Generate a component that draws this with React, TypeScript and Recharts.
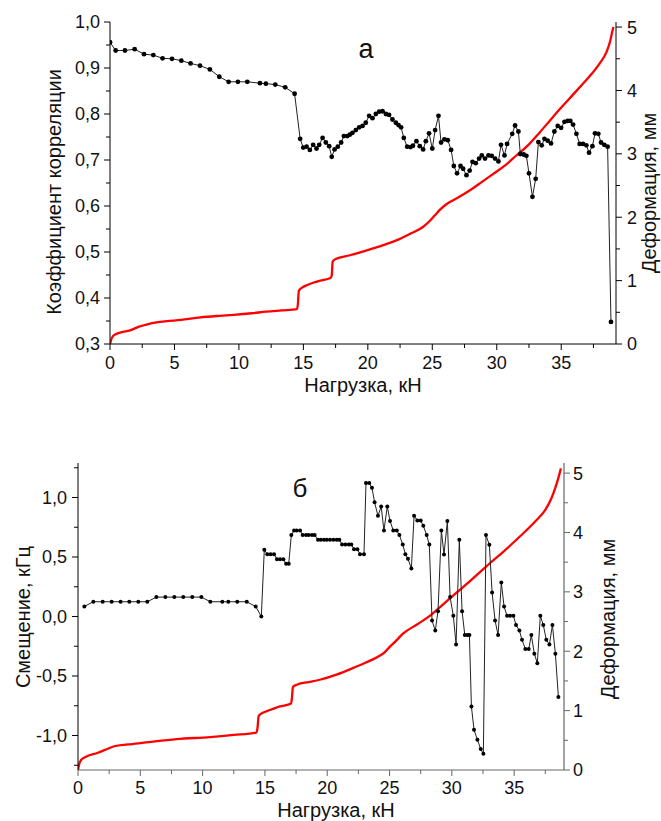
import React from 'react';
import { ComposedChart, Line, XAxis, YAxis } from 'recharts';

// ---------- Chart "а" (top) ----------
const topLoad = [
  0, 0.44, 1.16, 1.91, 2.64, 3.36, 4.08, 4.81, 5.53, 6.25, 6.98, 7.75, 8.48, 9.2, 9.92, 10.65,
  11.63, 12.09, 12.82, 13.59, 14.32, 14.75, 14.99, 15.25, 15.5, 15.76, 16.02, 16.23, 16.49, 16.74,
  17.0, 17.2, 17.42, 17.67, 17.93, 18.14, 18.4, 18.6, 18.81, 19.07, 19.33, 19.59, 19.84, 20.1,
  20.36, 20.62, 20.88, 21.14, 21.4, 21.65, 21.91, 22.17, 22.38, 22.58, 22.79, 23.05, 23.31, 23.5,
  23.77, 24.03, 24.29, 24.5, 24.75, 25.0, 25.22, 25.48, 25.68, 25.94, 26.2, 26.46, 26.67, 26.92,
  27.19, 27.39, 27.65, 27.9, 28.12, 28.37, 28.63, 28.84, 29.09, 29.36, 29.61, 29.87, 30.13, 30.33,
  30.6, 30.8, 31.2, 31.42, 31.68, 31.83, 32.09, 32.3, 32.5, 32.77, 33.02, 33.23, 33.49, 33.7,
  33.95, 34.21, 34.47, 34.73, 34.99, 35.25, 35.5, 35.71, 35.92, 36.18, 36.43, 36.69, 36.95, 37.16,
  37.42, 37.62, 37.88, 38.09, 38.34, 38.6, 38.86,
];
const topCorr = [
  0.956, 0.938, 0.938, 0.941, 0.93, 0.928, 0.921, 0.92, 0.916, 0.91, 0.905, 0.897, 0.881, 0.87, 0.87, 0.87,
  0.867, 0.866, 0.864, 0.858, 0.844, 0.746, 0.727, 0.729, 0.722, 0.733, 0.725, 0.733, 0.748, 0.738,
  0.73, 0.707, 0.723, 0.729, 0.738, 0.752, 0.752, 0.755, 0.759, 0.765, 0.771, 0.774, 0.781, 0.796,
  0.791, 0.8, 0.805, 0.806, 0.8, 0.798, 0.788, 0.781, 0.776, 0.771, 0.748, 0.729, 0.728, 0.731,
  0.741, 0.73, 0.723, 0.741, 0.758, 0.725, 0.765, 0.796, 0.738, 0.745, 0.743, 0.722, 0.687, 0.671,
  0.687, 0.681, 0.667, 0.677, 0.696, 0.693, 0.703, 0.71, 0.703, 0.71, 0.709, 0.703, 0.697, 0.733,
  0.71, 0.735, 0.757, 0.775, 0.762, 0.713, 0.712, 0.709, 0.671, 0.62, 0.659, 0.739, 0.732, 0.746,
  0.742, 0.736, 0.762, 0.774, 0.77, 0.783, 0.785, 0.785, 0.777, 0.757, 0.735, 0.735, 0.732, 0.716,
  0.73, 0.758, 0.757, 0.738, 0.733, 0.729, 0.348,
];
const topDefLoad = [
  0, 0.15, 0.4, 1.0, 1.5, 2.2, 2.9, 3.6, 4.4, 5.5, 7.0, 8.5, 9.6, 11.0, 12.1, 13.3, 14.5, 14.57,
  14.65, 14.9, 15.3, 15.8, 16.3, 17.1, 17.2, 17.27, 17.5, 18.6, 19.8, 21.2, 22.4, 23.4, 24.3, 24.8,
  25.2, 25.6, 26.2, 27.0, 27.8, 28.8, 29.7, 30.6, 31.5, 32.5, 33.3, 34.1, 35.0, 35.9, 36.7, 37.4,
  38.0, 38.5, 38.8, 38.95, 39.05,
];
const topDef = [
  0, 0.1, 0.15, 0.19, 0.21, 0.27, 0.31, 0.34, 0.36, 0.38, 0.42, 0.445, 0.46, 0.485, 0.51, 0.53, 0.55, 0.62,
  0.84, 0.89, 0.93, 0.97, 1.0, 1.04, 1.08, 1.3, 1.34, 1.4, 1.47, 1.56, 1.65, 1.75, 1.85, 1.94,
  2.03, 2.12, 2.22, 2.31, 2.41, 2.55, 2.68, 2.81, 2.97, 3.15, 3.33, 3.52, 3.73, 3.93, 4.11, 4.27,
  4.43, 4.6, 4.78, 4.92, 5.0,
];
const topXTicks = [0, 2.5, 5, 7.5, 10, 12.5, 15, 17.5, 20, 22.5, 25, 27.5, 30, 32.5, 35, 37.5];
const topXMajor = [0, 5, 10, 15, 20, 25, 30, 35];
const topLeftTicks = [0.3, 0.35, 0.4, 0.45, 0.5, 0.55, 0.6, 0.65, 0.7, 0.75, 0.8, 0.85, 0.9, 0.95, 1.0];
const topLeftMajor = [0.3, 0.4, 0.5, 0.6, 0.7, 0.8, 0.9, 1.0];
const defTicks = [0, 0.5, 1, 1.5, 2, 2.5, 3, 3.5, 4, 4.5, 5];
const defMajor = [0, 1, 2, 3, 4, 5];

// ---------- Chart "б" (bottom) ----------
const botLoad = [
  0.51, 1.23, 1.98, 2.7, 3.42, 4.12, 4.84, 5.56, 6.29, 7.01, 7.73, 8.45, 9.17, 9.9, 10.62, 11.58,
  12.06, 12.78, 13.54, 14.26, 14.71, 14.95, 15.19, 15.46, 15.73, 15.97, 16.22, 16.48, 16.7, 16.91,
  17.12, 17.34, 17.55, 17.82, 18.03, 18.3, 18.51, 18.78, 18.99, 19.26, 19.48, 19.74, 19.96, 20.22,
  20.49, 20.76, 20.97, 21.19, 21.45, 21.73, 21.93, 22.15, 22.42, 22.63, 22.95, 23.11, 23.37, 23.59,
  23.8, 24.07, 24.33, 24.55, 24.82, 25.04, 25.3, 25.58, 25.79, 26.06, 26.27, 26.48, 26.75, 26.97,
  27.23, 27.5, 27.71, 27.98, 28.19, 28.41, 28.67, 28.89, 29.16, 29.37, 29.64, 29.86, 30.12, 30.34,
  30.6, 30.82, 31.04, 31.25, 31.41, 31.57, 31.78, 32.05, 32.32, 32.53, 32.74, 33.01, 33.23, 33.47,
  33.71, 33.97, 34.19, 34.43, 34.67, 34.94, 35.15, 35.42, 35.63, 35.9, 36.17, 36.38, 36.62, 36.86,
  37.1, 37.34, 37.58, 37.83, 38.07, 38.31, 38.55,
];
const botShift = [
  0.084, 0.124, 0.124, 0.124, 0.124, 0.124, 0.124, 0.124, 0.163, 0.163, 0.163, 0.163, 0.163, 0.163, 0.124, 0.124,
  0.124, 0.124, 0.124, 0.084, 0.0, 0.56, 0.524, 0.524, 0.524, 0.482, 0.482, 0.482, 0.443, 0.443,
  0.684, 0.723, 0.723, 0.723, 0.684, 0.684, 0.684, 0.684, 0.684, 0.645, 0.645, 0.645, 0.645, 0.645,
  0.645, 0.645, 0.645, 0.605, 0.605, 0.605, 0.605, 0.566, 0.566, 0.524, 0.524, 1.121, 1.121, 1.082,
  0.961, 0.846, 0.924, 0.723, 0.924, 0.802, 0.723, 0.723, 0.684, 0.605, 0.524, 0.485, 0.403, 0.846,
  0.807, 0.807, 0.762, 0.684, 0.605, -0.034, -0.118, 0.045, 0.723, 0.521, 0.802, 0.163, 0.006, -0.235,
  0.645, 0.045, -0.156, -0.156, -0.156, -0.756, -0.952, -1.036, -1.114, -1.154, 0.684, 0.602, 0.202, -0.034,
  -0.156, 0.286, 0.084, 0.006, 0.006, 0.006, -0.072, -0.118, -0.196, -0.274, -0.274, -0.156, -0.313, -0.392,
  0.006, -0.072, -0.196, -0.235, -0.072, -0.313, -0.677,
];
const botDefLoad = [
  0, 0.1, 0.3, 0.6, 1.6, 2.3, 2.9, 4.0, 5.3, 7.9, 10.6, 12.5, 14.3, 14.4, 14.5, 14.8, 15.4, 16.2,
  17.1, 17.16, 17.25, 17.6, 18.5, 19.4, 20.8, 22.1, 23.1, 24.0, 24.6, 25.0, 25.4, 26.1, 27.2, 28.2,
  29.3, 30.4, 31.5, 32.3, 33.1, 34.1, 35.5, 36.8, 37.5, 38.0, 38.3, 38.55, 38.75,
];
const botDef = [
  0, 0.1, 0.18, 0.22, 0.29, 0.35, 0.4, 0.43, 0.46, 0.52, 0.555, 0.59, 0.63, 0.7, 0.91, 0.96, 1.01, 1.07,
  1.12, 1.2, 1.4, 1.44, 1.48, 1.52, 1.61, 1.72, 1.81, 1.9, 1.98, 2.07, 2.15, 2.3, 2.45, 2.59,
  2.79, 2.99, 3.19, 3.34, 3.49, 3.67, 3.94, 4.21, 4.38, 4.58, 4.75, 4.92, 5.08,
];
const botXTicks = topXTicks;
const botXMajor = topXMajor;
const botLeftTicks = [-1.25, -1.0, -0.75, -0.5, -0.25, 0, 0.25, 0.5, 0.75, 1.0, 1.25];
const botLeftMajor = [-1.0, -0.5, 0, 0.5, 1.0];

const zip = (xs: number[], ys: number[]) => xs.map((x, i) => ({ x, y: ys[i] }));

const FONT = '"Liberation Sans", Arial, sans-serif';

const isMajor = (majors: number[], v: number) => majors.some((m) => Math.abs(m - v) < 1e-6);
const comma = (v: number) => v.toFixed(1).replace('.', ',');
const intFmt = (v: number) => String(Math.round(v));

type Side = 'left' | 'right' | 'bottom';

const makeTick = (
  side: Side,
  majors: number[],
  fmt: (v: number) => string,
  color: string,
  fontSize: number,
  labelOffset: number
) => (props: any) => {
  const { x, y, payload } = props;
  const v = payload.value as number;
  const major = isMajor(majors, v);
  const len = major ? 6 : 4;
  if (side === 'left') {
    return (
      <g>
        <line x1={x - len} y1={y} x2={x} y2={y} stroke={color} strokeWidth={1} />
        {major && (
          <text x={x - labelOffset} y={y} dy="0.36em" textAnchor="end" fontSize={fontSize} fontFamily={FONT} fill="#111">
            {fmt(v)}
          </text>
        )}
      </g>
    );
  }
  if (side === 'right') {
    return (
      <g>
        <line x1={x} y1={y} x2={x + len} y2={y} stroke={color} strokeWidth={1} />
        {major && (
          <text x={x + labelOffset} y={y} dy="0.36em" textAnchor="start" fontSize={fontSize} fontFamily={FONT} fill="#111">
            {fmt(v)}
          </text>
        )}
      </g>
    );
  }
  return (
    <g>
      <line x1={x} y1={y} x2={x} y2={y + len} stroke={color} strokeWidth={1} />
      {major && (
        <text x={x} y={y + labelOffset} textAnchor="middle" fontSize={fontSize} fontFamily={FONT} fill="#111">
          {fmt(v)}
        </text>
      )}
    </g>
  );
};

const topBlack = zip(topLoad, topCorr);
const topRed = zip(topDefLoad, topDef);
const botBlack = zip(botLoad, botShift);
const botRed = zip(botDefLoad, botDef);

const TopChart = () => (
  <ComposedChart width={661} height={400} margin={{ top: 22, right: 0, bottom: 26, left: 0 }}>
    <XAxis
      type="number"
      dataKey="x"
      domain={[0, 39.25]}
      allowDataOverflow
      ticks={topXTicks}
      interval={0}
      height={30}
      tickSize={0}
      tickMargin={0}
      tickLine={false}
      axisLine={{ stroke: '#000', strokeWidth: 1 }}
      tick={makeTick('bottom', topXMajor, intFmt, '#000', 18, 25)}
    />
    <YAxis
      yAxisId="l"
      type="number"
      domain={[0.3, 1.0]}
      allowDataOverflow
      ticks={topLeftTicks}
      interval={0}
      width={110}
      tickSize={0}
      tickMargin={0}
      tickLine={false}
      axisLine={{ stroke: '#000', strokeWidth: 1 }}
      tick={makeTick('left', topLeftMajor, comma, '#000', 18, 10)}
    />
    <YAxis
      yAxisId="r"
      orientation="right"
      type="number"
      domain={[0, 5.08]}
      allowDataOverflow
      ticks={defTicks}
      interval={0}
      width={45}
      tickSize={0}
      tickMargin={0}
      tickLine={false}
      axisLine={{ stroke: '#000', strokeWidth: 1 }}
      tick={makeTick('right', defMajor, intFmt, '#000', 18, 11)}
    />
    <Line
      yAxisId="r"
      data={topRed}
      dataKey="y"
      type="monotone"
      stroke="#ff0000"
      strokeWidth={2.3}
      dot={false}
      isAnimationActive={false}
    />
    <Line
      yAxisId="l"
      data={topBlack}
      dataKey="y"
      type="linear"
      stroke="#222"
      strokeWidth={1}
      dot={{ r: 2.4, fill: '#000', stroke: 'none' }}
      isAnimationActive={false}
    />
  </ComposedChart>
);

const BottomChart = () => (
  <ComposedChart width={661} height={401} margin={{ top: 43, right: 0, bottom: 21, left: 0 }}>
    <XAxis
      type="number"
      dataKey="x"
      domain={[0, 39]}
      allowDataOverflow
      ticks={botXTicks}
      interval={0}
      height={30}
      tickSize={0}
      tickMargin={0}
      tickLine={false}
      axisLine={{ stroke: '#666', strokeWidth: 1.2 }}
      tick={makeTick('bottom', botXMajor, intFmt, '#666', 18, 24)}
    />
    <YAxis
      yAxisId="l"
      type="number"
      domain={[-1.29, 1.29]}
      allowDataOverflow
      ticks={botLeftTicks}
      interval={0}
      width={78}
      tickSize={0}
      tickMargin={0}
      tickLine={false}
      axisLine={{ stroke: '#000', strokeWidth: 1 }}
      tick={makeTick('left', botLeftMajor, comma, '#000', 18, 11)}
    />
    <YAxis
      yAxisId="r"
      orientation="right"
      type="number"
      domain={[0, 5.17]}
      allowDataOverflow
      ticks={defTicks}
      interval={0}
      width={97}
      tickSize={0}
      tickMargin={0}
      tickLine={false}
      axisLine={{ stroke: '#666', strokeWidth: 1.2 }}
      tick={makeTick('right', defMajor, intFmt, '#666', 18, 9)}
    />
    <Line
      yAxisId="r"
      data={botRed}
      dataKey="y"
      type="monotone"
      stroke="#ff0000"
      strokeWidth={2.3}
      dot={false}
      isAnimationActive={false}
    />
    <Line
      yAxisId="l"
      data={botBlack}
      dataKey="y"
      type="linear"
      stroke="#222"
      strokeWidth={1}
      dot={{ r: 2, fill: '#000', stroke: 'none' }}
      isAnimationActive={false}
    />
  </ComposedChart>
);

export default function App() {
  return (
    <div style={{ position: 'absolute', left: 0, top: 0, width: 661, height: 821, background: '#fff', overflow: 'hidden' }}>
      <div style={{ position: 'absolute', left: 0, top: 0 }}>
        <TopChart />
      </div>
      <div style={{ position: 'absolute', left: 0, top: 420 }}>
        <BottomChart />
      </div>
      <svg
        width={661}
        height={821}
        style={{ position: 'absolute', left: 0, top: 0, pointerEvents: 'none' }}
        fontFamily={FONT}
        fill="#111"
      >
        <text x={366} y={58} textAnchor="middle" fontSize={27}>а</text>
        <text x={0} y={0} transform="translate(54,192) rotate(-90)" textAnchor="middle" dy="0.35em" fontSize={20}>
          Коэффициент корреляции
        </text>
        <text x={0} y={0} transform="translate(649,193) rotate(-90)" textAnchor="middle" dy="0.35em" fontSize={20}>
          Деформация, мм
        </text>
        <text x={363} y={392} textAnchor="middle" fontSize={20}>Нагрузка, кН</text>

        <text x={300} y={497} textAnchor="middle" fontSize={26}>б</text>
        <text x={0} y={0} transform="translate(23,617) rotate(-90)" textAnchor="middle" dy="0.35em" fontSize={20}>
          Смещение, кГц
        </text>
        <text x={0} y={0} transform="translate(608,619) rotate(-90)" textAnchor="middle" dy="0.35em" fontSize={20}>
          Деформация, мм
        </text>
        <text x={336} y={817} textAnchor="middle" fontSize={20}>Нагрузка, кН</text>
      </svg>
    </div>
  );
}
